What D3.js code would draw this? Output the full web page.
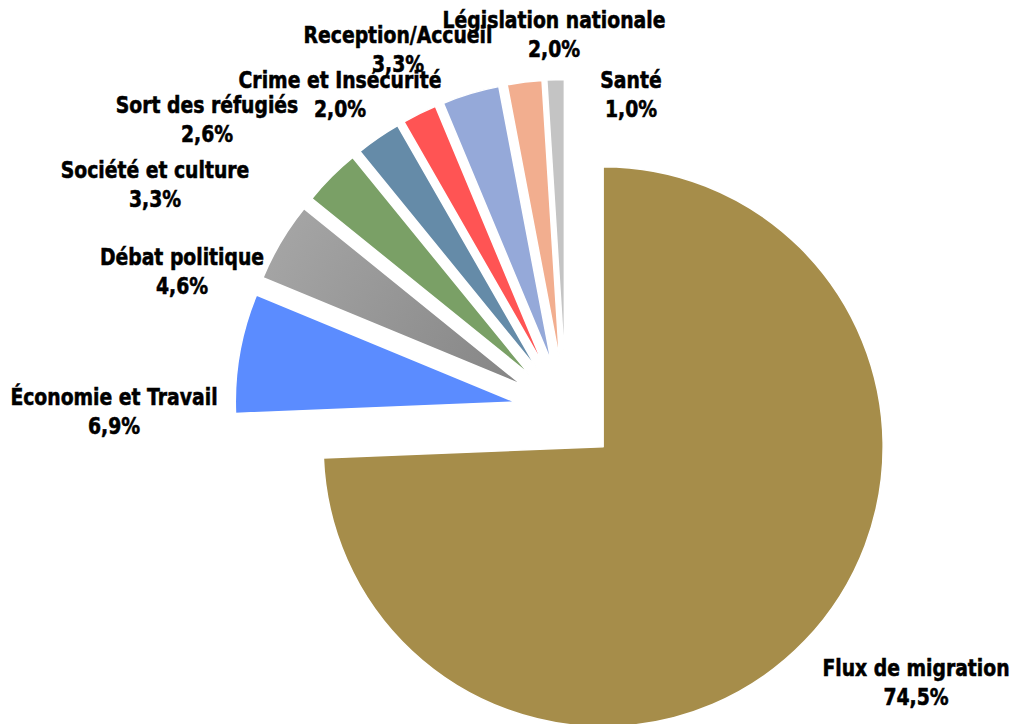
<!DOCTYPE html>
<html>
<head>
<meta charset="utf-8">
<script src="https://cdn.jsdelivr.net/npm/d3@7"></script>
<style>
  html, body { margin: 0; padding: 0; background: #ffffff; }
  svg { display: block; }
  .lbl { font-family: "DejaVu Sans", "Liberation Sans", sans-serif; font-weight: bold; font-size: 23.5px; fill: #000; stroke: #000; stroke-width: 0.6px; }
</style>
</head>
<body>
<svg id="chart" width="1011" height="724"></svg>
<script>
// Topics, in drawing order (clockwise from 12 o'clock)
const categories = [
  "Flux de migration", "Économie et Travail", "Débat politique", "Société et culture",
  "Sort des réfugiés", "Crime et Insécurité", "Reception/Accueil", "Législation nationale", "Santé"
];
// Share of coverage, percent
const shares = [74.5, 6.9, 4.6, 3.3, 2.6, 2.0, 3.3, 2.0, 1.0];
const colors = ["#A68D4A", "#5B8CFF", "#999999", "#7AA066", "#658BA8", "#FF5454", "#95A9D9", "#F2AE8F", "#C4C4C4"];

// Label anchors: centre x and first baseline y, one per topic
const labelAnchors = [
  [916, 676], [114, 405], [182, 265], [155, 178], [207, 113],
  [340, 88], [398, 43], [554, 28], [631, 88]
];

const W = 1011, H = 724;
const cx = 566, cy = 411;      // pie centre
const radius = 280;
const explode = 51.5;          // every slice pushed out from the centre
const lineGap = 29;
const squeeze = 0.8;           // horizontal condensing of the label type

const svg = d3.select("#chart");

const defs = svg.append("defs");
const grad = defs.append("radialGradient")
  .attr("id", "grayShade")
  .attr("gradientUnits", "userSpaceOnUse")
  .attr("cx", 0).attr("cy", 0).attr("r", radius);
grad.append("stop").attr("offset", "0%").attr("stop-color", "#858585");
grad.append("stop").attr("offset", "100%").attr("stop-color", "#A4A4A4");

const data = categories.map((c, i) => ({ name: c, value: shares[i], color: colors[i], anchor: labelAnchors[i] }));

const pie = d3.pie().sort(null).value(d => d.value);
const arc = d3.arc().innerRadius(0).outerRadius(radius);
const arcs = pie(data);

const g = svg.append("g").attr("transform", `translate(${cx},${cy})`);

g.selectAll("path.slice")
  .data(arcs)
  .join("path")
  .attr("class", "slice")
  .attr("transform", d => {
    const mid = (d.startAngle + d.endAngle) / 2;
    return `translate(${explode * Math.sin(mid)},${-explode * Math.cos(mid)})`;
  })
  .attr("d", arc)
  .attr("fill", (d, i) => i === 2 ? "url(#grayShade)" : d.data.color)
  .attr("stroke", "#ffffff")
  .attr("stroke-width", 1.5)
  .attr("stroke-linejoin", "round");

const fmt = v => v.toFixed(1).replace(".", ",") + "%";

const labels = svg.append("g").selectAll("text")
  .data(arcs)
  .join("text")
  .attr("class", "lbl")
  .attr("text-anchor", "middle")
  .attr("transform", d => `translate(${d.data.anchor[0]},${d.data.anchor[1]}) scale(${squeeze},1)`);

labels.append("tspan").attr("x", 0).attr("y", 0).text(d => d.data.name);
labels.append("tspan")
  .attr("x", 0)
  .attr("y", lineGap)
  .text(d => fmt(d.data.value));
</script>
</body>
</html>
